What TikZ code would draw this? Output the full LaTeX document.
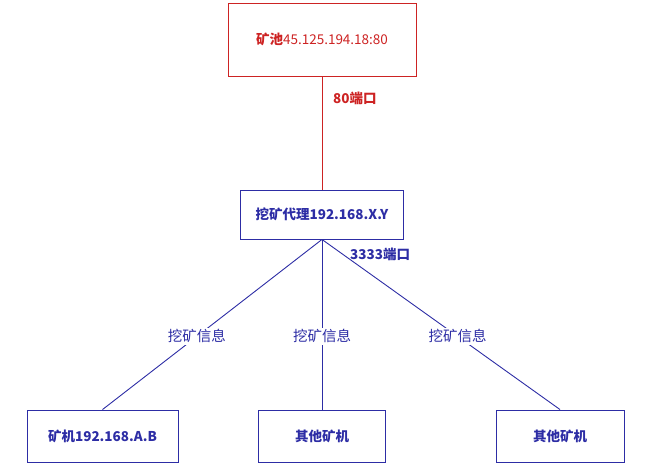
\documentclass[tikz,border=0pt]{standalone}
\usepackage{fontspec}
\setmainfont{Noto Sans CJK SC}
\definecolor{poolred}{RGB}{205,35,35}
\definecolor{netblue}{RGB}{45,45,165}
\tikzset{
  hostbox/.style={draw=netblue, text=netblue, line width=0.9pt, inner sep=0pt, font=\fontsize{13.5}{15}\selectfont\bfseries},
  infolabel/.style={fill=white, text=netblue, inner sep=2pt, font=\fontsize{14.5}{16}\selectfont},
  portlabel/.style={font=\fontsize{13.5}{15}\selectfont\bfseries, inner sep=0pt}
}
\begin{document}
\begin{tikzpicture}[x=1pt,y=-1pt]
  \useasboundingbox (0,0) rectangle (656,466);
  % pool and proxy
  \node[draw=poolred, text=poolred, line width=0.9pt, minimum width=188pt, minimum height=73pt, inner sep=0pt, font=\fontsize{13.5}{15}\selectfont] (pool) at (322,39.5) {\textbf{矿池}45.125.194.18:80};
  \node[hostbox, minimum width=163pt, minimum height=49pt] (proxy) at (322,214.5) {挖矿代理192.168.X.Y};
  \draw[poolred, line width=0.9pt] (pool) -- (proxy);
  \node[portlabel, text=poolred, anchor=west] (port80) at (333,98) {80端口};
  \node[portlabel, text=netblue, anchor=west] (port3333) at (350,254) {3333端口};
  % miners
  \node[hostbox, minimum width=151pt, minimum height=52pt] (miner) at (102.5,436) {矿机192.168.A.B};
  \node[hostbox, minimum width=127pt, minimum height=52pt] (other1) at (322,436) {其他矿机};
  \node[hostbox, minimum width=128pt, minimum height=52pt] (other2) at (560,436) {其他矿机};
  \draw[netblue, line width=0.9pt] (proxy.south) -- node[infolabel, pos=0.57] {挖矿信息} (miner.north);
  \draw[netblue, line width=0.9pt] (proxy.south) -- node[infolabel, pos=0.57] {挖矿信息} (other1.north);
  \draw[netblue, line width=0.9pt] (proxy.south) -- node[infolabel, pos=0.57] {挖矿信息} (other2.north);
\end{tikzpicture}
\end{document}
